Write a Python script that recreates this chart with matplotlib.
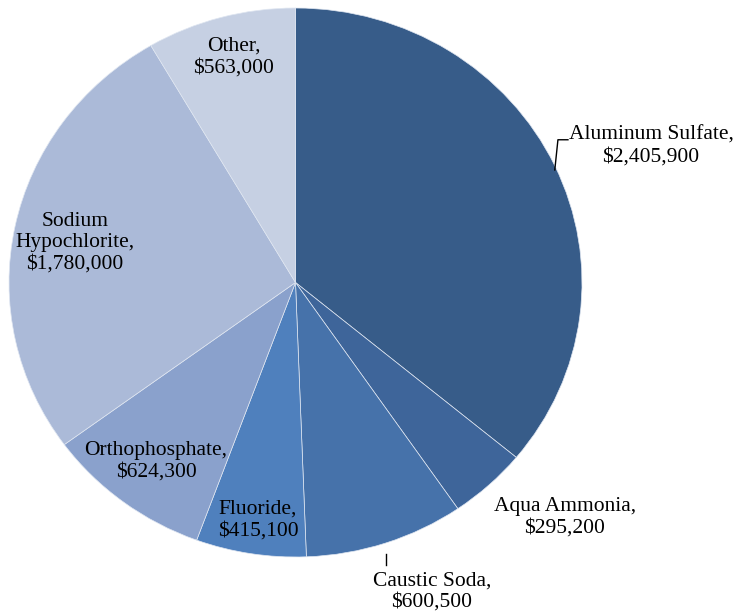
import matplotlib
matplotlib.use("Agg")
import matplotlib.pyplot as plt

plt.rcParams["font.family"] = ["Liberation Serif", "DejaVu Serif"]

# Chemical spending by category (USD)
categories = ["Aluminum Sulfate", "Aqua Ammonia", "Caustic Soda", "Fluoride",
              "Orthophosphate", "Sodium Hypochlorite", "Other"]
costs = [2405900, 295200, 600500, 415100, 624300, 1780000, 563000]
label_names = ["Aluminum Sulfate,", "Aqua Ammonia,", "Caustic Soda,", "Fluoride,",
               "Orthophosphate,", "Sodium\nHypochlorite,", "Other,"]
colors = ["#375c89", "#3e659a", "#4672aa", "#4f80bd",
          "#8aa1cc", "#abbad8", "#c6d0e3"]

# label anchor points (axes data units, pie radius = 1)
label_pos = [(1.241, 0.498), (0.94, -0.855), (0.476, -1.125), (-0.131, -0.866),
             (-0.487, -0.650), (-0.770, 0.144), (-0.215, 0.821)]

fig = plt.figure(figsize=(7.34, 6.15), dpi=100)
ax = fig.add_axes([9 / 734, 1 - 557 / 615, 573 / 734, 549 / 615])

wedges, _ = ax.pie(costs, colors=colors, startangle=90, counterclock=False,
                   radius=1.0, center=(0, 0),
                   wedgeprops=dict(edgecolor="#dfe6f1", linewidth=0.5))
ax.set_aspect("auto")
ax.set_xlim(-1, 1)
ax.set_ylim(-1, 1)
ax.axis("off")

for name, val, (x, y) in zip(label_names, costs, label_pos):
    ax.text(x, y, f"{name}\n${val:,.0f}", ha="center", va="center",
            fontsize=15.5, linespacing=1.18, color="black", clip_on=False)

# leader lines
ax.plot([0.951, 0.916, 0.905], [0.52, 0.52, 0.41], color="black", lw=1.0, clip_on=False)
ax.plot([0.316, 0.316], [-0.99, -1.03], color="black", lw=1.0, clip_on=False)

fig.savefig("out.png", dpi=100)
